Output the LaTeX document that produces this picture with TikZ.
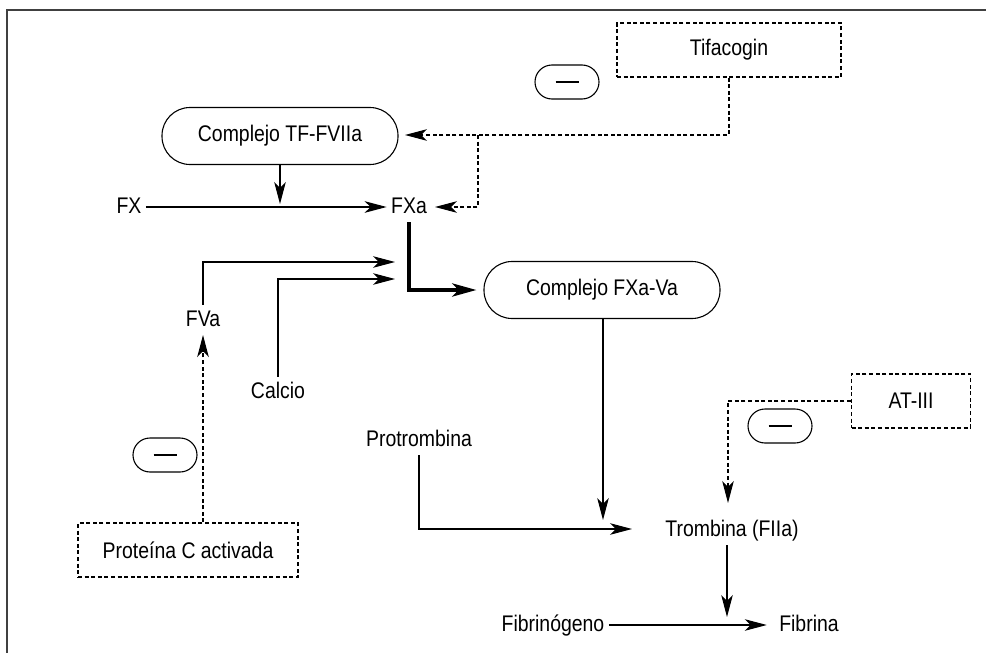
\documentclass[tikz,border=0pt]{standalone}
\usepackage{fontspec}
\setmainfont[FakeStretch=0.86]{Liberation Sans}
\usetikzlibrary{arrows.meta, positioning}
\tikzset{
  pill/.style={
    minimum width=118pt,
    minimum height=28.5pt,
    align=center,
    draw=black,
    rounded corners=14pt
  },
  inhib/.style={
    minimum width=110pt,
    minimum height=27pt,
    align=center,
    draw=black,
    dash pattern=on 2pt off 1.3pt
  },
  minus/.style={
    minimum width=32pt,
    minimum height=17pt,
    inner sep=0pt,
    draw=black,
    rounded corners=8.5pt
  },
  txt/.style={
    inner sep=2pt,
    text height=8.5pt,
    text depth=2pt
  },
  dsh/.style={draw, dash pattern=on 2pt off 1.3pt},
  heavy/.style={draw, line width=2pt, -{Stealth[length=12pt, width=6.5pt, inset=3pt]}},
  framed/.style={draw=black!75, line width=1pt}
}
\begin{document}
\begin{tikzpicture}[x=0.5pt, y=-0.5pt, line width=0.55pt,
    font=\fontsize{11.3}{13}\selectfont,
    >={Stealth[length=11pt, width=5.8pt, inset=3pt]}]
  \useasboundingbox (0,0) rectangle (986,653);
  \path[framed] (986,10) -- (7,10) -- (7,653);

  % boxes and labels
  \node (tifa) [inhib, minimum width=112pt] at (729,50) {Tifacogin};
  \node (tf) [pill] at (280,136) {Complejo TF-FVIIa};
  \node (fx) [txt] at (129,207) {FX};
  \node (fxa) [txt] at (409,207) {FXa};
  \node (fxava) [pill] at (602,290) {Complejo FXa-Va};
  \node (fva) [txt] at (203,320) {FVa};
  \node (calcio) [txt] at (278,392) {Calcio};
  \node (protc) [inhib] at (188,550) {Proteína C activada};
  \node (protr) [txt] at (419,440) {Protrombina};
  \node (trombina) [txt] at (732,530) {Trombina (FIIa)};
  \node (at) [inhib, minimum width=59.5pt] at (911,401) {AT-III};
  \node (fibrinog) [txt] at (553,625) {Fibrinógeno};
  \node (fibrina) [txt] at (809,625) {Fibrina};
  \node (minus1) [minus] at (567,82) {\rule{11.5pt}{0.7pt}};
  \node (minus2) [minus] at (165,455) {\rule{11.5pt}{0.7pt}};
  \node (minus3) [minus] at (780,426) {\rule{11.5pt}{0.7pt}};

  % arrow ends
  \coordinate (tfin) at (405,135);
  \coordinate (split) at (478,135);
  \coordinate (fxain) at (435,207);
  \coordinate (fxline) at (280,204);
  \coordinate (fvin) at (395,262);
  \coordinate (cain) at (395,279);
  \coordinate (tromin) at (603,520);
  \coordinate (protin) at (632,529);
  \coordinate (atin) at (728,503);
  \coordinate (fibin) at (727,617);

  % connectors
  \draw[dsh, ->] (tifa.south) |- (tfin);
  \draw[dsh, ->] (split) |- (fxain);
  \draw[->] (fx) -- (fxa);
  \draw[->] (tf) -- (fxline);
  \draw[->] (fva) |- (fvin);
  \draw[->] (calcio) |- (cain);
  \draw[heavy, shorten >=3.5pt] (fxa.south) |- (fxava.west);
  \draw[->] (fxava.south -| tromin) -- (tromin);
  \draw[->] (protr) |- (protin);
  \draw[dsh, ->] (at.west) -| (atin);
  \draw[->] (trombina.south -| fibin) -- (fibin);
  \draw[->, shorten >=4pt] (fibrinog) -- (fibrina);
  \draw[dsh, ->] (protc.north -| fva) -- (fva);
\end{tikzpicture}
\end{document}
